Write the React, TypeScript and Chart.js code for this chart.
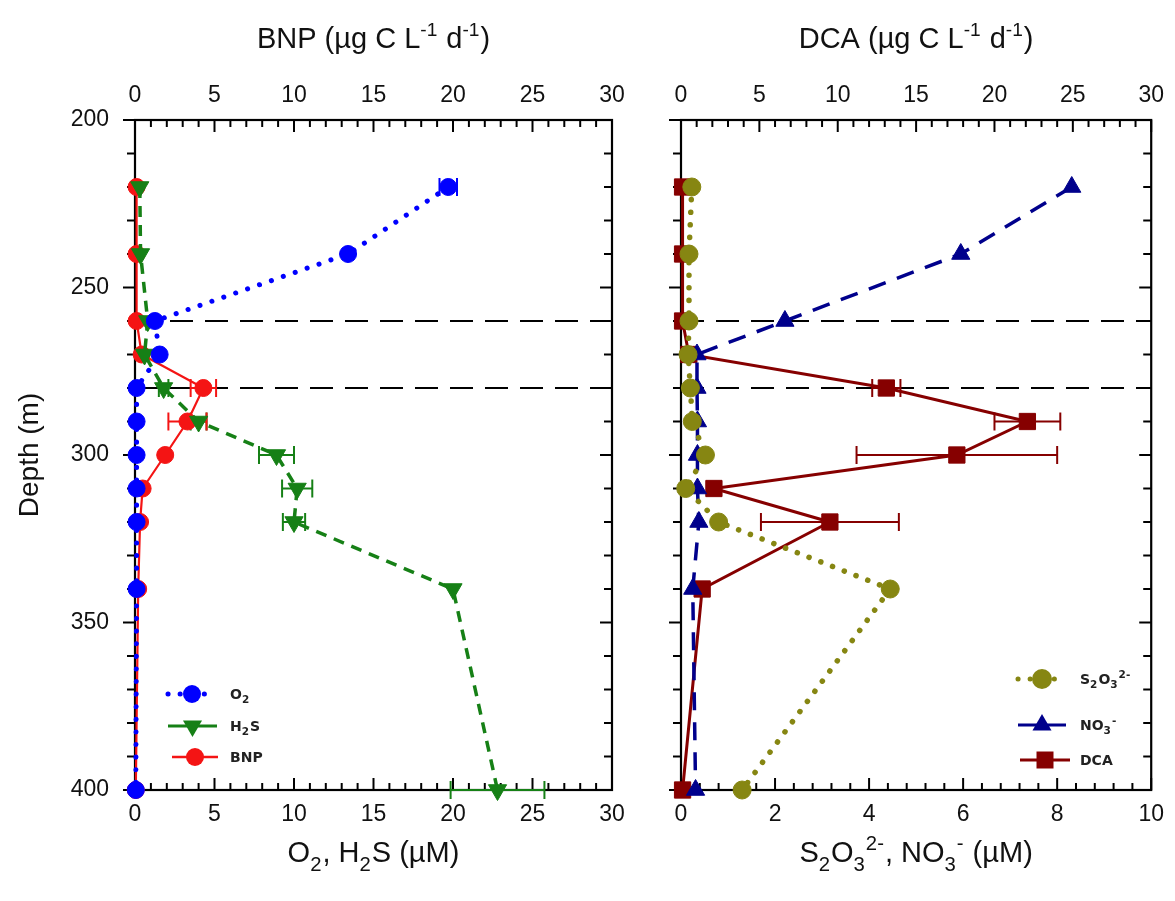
import React, { useEffect, useRef } from 'react';
import { Chart, registerables } from 'chart.js';

Chart.register(...registerables);

// ---------------- data ----------------
const depthsLeft = [220, 240, 260, 270, 280, 290, 300, 310, 320, 340, 400];
const o2Values = [19.7, 13.4, 1.25, 1.55, 0.1, 0.1, 0.1, 0.1, 0.1, 0.1, 0.05];
const o2Errors = [0.55, 0, 0, 0, 0, 0, 0, 0, 0, 0, 0];
const h2sValues = [0.3, 0.35, 0.8, 0.6, 1.8, 4.0, 8.9, 10.2, 10.0, 20.0, 22.8];
const h2sErrors = [0, 0, 0, 0, 0.3, 0.5, 1.1, 0.95, 0.7, 0, 2.95];
const bnpValues = [0.1, 0.1, 0.1, 0.42, 4.3, 3.3, 1.9, 0.48, 0.32, 0.2, 0.05];
const bnpErrors = [0, 0, 0, 0, 0.8, 1.2, 0, 0, 0, 0, 0];

const depthsRight = [220, 240, 260, 270, 280, 290, 300, 310, 320, 340, 400];
const s2o3Values = [0.23, 0.17, 0.17, 0.15, 0.2, 0.24, 0.52, 0.1, 0.8, 4.45, 1.3];
const no3Values = [8.31, 5.95, 2.21, 0.34, 0.34, 0.35, 0.35, 0.35, 0.38, 0.25, 0.31];
const dcaValues = [0.1, 0.1, 0.1, 0.5, 13.1, 22.1, 17.6, 2.1, 9.5, 1.35, 0.1];
const dcaErrors = [0, 0, 0, 0, 0.9, 2.1, 6.4, 0, 4.4, 0, 0];

const boundaryDepths = [260, 280];
const concTicksLeft = [0, 5, 10, 15, 20, 25, 30];
const rateTicks = [0, 5, 10, 15, 20, 25, 30];
const concTicksRight = [0, 2, 4, 6, 8, 10];
const depthTicks = [200, 250, 300, 350, 400];

// ---------------- styling ----------------
const FONT = '"Liberation Sans", Arial, sans-serif';
const LEG_FONT = '"DejaVu Sans", Verdana, sans-serif';
const C_O2 = '#0000ff';
const C_H2S = '#168016';
const C_BNP = '#f41414';
const C_S2O3 = '#868612';
const C_NO3 = '#00008c';
const C_DCA = '#860000';

type Seg = { t: string; k?: 'sub' | 'sup' };
type Marker = 'circle' | 'tri' | 'triDown' | 'square';

interface LegendItem {
  segs: Seg[];
  color: string;
  dash: number[];
  width: number;
  cap: CanvasLineCap;
  marker: Marker;
  size: number;
  y: number;
  x1: number;
  x2: number;
  tx: number;
}

interface ErrSpec {
  axis: string;
  values: number[];
  errors: number[];
  depths: number[];
  color: string;
}

interface TickSpec {
  axis: string;
  min: number;
  max: number;
  step: number;
  majorEvery: number;
}

interface PanelCfg {
  topTitle: Seg[];
  bottomTitle: Seg[];
  yTitle?: string;
  legend: LegendItem[];
  errs: ErrSpec[];
  bottomTicks: TickSpec;
  topTicks: TickSpec;
  depthStep: number;
  depthMajor: number;
}

function drawRich(
  ctx: CanvasRenderingContext2D,
  segs: Seg[],
  x: number,
  baseline: number,
  size: number,
  family: string,
  weight: string,
  color: string,
  align: 'center' | 'left',
  ratio = 0.62
) {
  const small = size * ratio;
  const widths = segs.map((s) => {
    ctx.font = `${weight} ${s.k ? small : size}px ${family}`;
    return ctx.measureText(s.t).width + (s.k ? 1 : 0);
  });
  const total = widths.reduce((a, b) => a + b, 0);
  let cx = align === 'center' ? x - total / 2 : x;
  ctx.fillStyle = color;
  ctx.textAlign = 'left';
  ctx.textBaseline = 'alphabetic';
  segs.forEach((s, i) => {
    ctx.font = `${weight} ${s.k ? small : size}px ${family}`;
    const dy = s.k === 'sub' ? size * 0.3 : s.k === 'sup' ? -size * 0.42 : 0;
    ctx.fillText(s.t, cx, baseline + dy);
    cx += widths[i];
  });
}

function drawMarker(ctx: CanvasRenderingContext2D, kind: Marker, x: number, y: number, r: number, color: string) {
  ctx.save();
  ctx.fillStyle = color;
  ctx.beginPath();
  if (kind === 'circle') {
    ctx.arc(x, y, r, 0, Math.PI * 2);
  } else if (kind === 'square') {
    ctx.rect(x - r, y - r, 2 * r, 2 * r);
  } else if (kind === 'tri') {
    ctx.moveTo(x, y - r);
    ctx.lineTo(x + r * 0.866, y + r * 0.5);
    ctx.lineTo(x - r * 0.866, y + r * 0.5);
    ctx.closePath();
  } else {
    ctx.moveTo(x, y + r);
    ctx.lineTo(x + r * 0.866, y - r * 0.5);
    ctx.lineTo(x - r * 0.866, y - r * 0.5);
    ctx.closePath();
  }
  ctx.fill();
  ctx.restore();
}

function line(ctx: CanvasRenderingContext2D, x1: number, y1: number, x2: number, y2: number) {
  ctx.beginPath();
  ctx.moveTo(x1, y1);
  ctx.lineTo(x2, y2);
  ctx.stroke();
}

function makePanelPlugin(cfg: PanelCfg) {
  return {
    id: 'panelDecor',
    beforeDatasetsDraw(chart: any) {
      const ctx: CanvasRenderingContext2D = chart.ctx;
      const { left, right, top, bottom } = chart.chartArea;
      const ys = chart.scales.y;
      ctx.save();
      // boundary dashed lines
      ctx.strokeStyle = '#000';
      ctx.lineWidth = 2;
      ctx.setLineDash([23, 12]);
      boundaryDepths.forEach((d) => {
        const py = ys.getPixelForValue(d);
        line(ctx, left, py, right, py);
      });
      ctx.setLineDash([]);

      // frame
      ctx.lineWidth = 2.2;
      ctx.strokeRect(left, top, right - left, bottom - top);

      // ticks
      ctx.lineWidth = 2;
      const horiz = (spec: TickSpec, yEdge: number, dir: number) => {
        const sc = chart.scales[spec.axis];
        const n = Math.round((spec.max - spec.min) / spec.step);
        for (let i = 0; i <= n; i++) {
          const v = spec.min + i * spec.step;
          const px = sc.getPixelForValue(v);
          const len = i % spec.majorEvery === 0 ? 12 : 7;
          line(ctx, px, yEdge, px, yEdge + dir * len);
        }
      };
      horiz(cfg.bottomTicks, bottom, -1);
      horiz(cfg.topTicks, top, 1);
      const nD = Math.round((400 - 200) / cfg.depthStep);
      for (let i = 0; i <= nD; i++) {
        const v = 200 + i * cfg.depthStep;
        const py = ys.getPixelForValue(v);
        const len = i % cfg.depthMajor === 0 ? 12 : 8;
        line(ctx, left, py, left - len, py);
        line(ctx, right, py, right - len, py);
      }

      // error bars
      ctx.lineWidth = 2;
      cfg.errs.forEach((e) => {
        const sc = chart.scales[e.axis];
        ctx.strokeStyle = e.color;
        e.values.forEach((v, i) => {
          const err = e.errors[i];
          if (!err) return;
          const py = ys.getPixelForValue(e.depths[i]);
          const a = sc.getPixelForValue(v - err);
          const b = sc.getPixelForValue(v + err);
          line(ctx, a, py, b, py);
          line(ctx, a, py - 9, a, py + 9);
          line(ctx, b, py - 9, b, py + 9);
        });
      });
      ctx.restore();
    },
    afterDraw(chart: any) {
      const ctx: CanvasRenderingContext2D = chart.ctx;
      const { left, right, top, bottom } = chart.chartArea;
      ctx.save();
      const cx = (left + right) / 2;
      drawRich(ctx, cfg.topTitle, cx, 48, 29, FONT, 'normal', '#111', 'center', 0.66);
      drawRich(ctx, cfg.bottomTitle, cx, 862, 29, FONT, 'normal', '#111', 'center', 0.7);
      if (cfg.yTitle) {
        ctx.save();
        ctx.translate(30, (top + bottom) / 2);
        ctx.rotate(-Math.PI / 2);
        ctx.font = `28px ${FONT}`;
        ctx.fillStyle = '#111';
        ctx.textAlign = 'center';
        ctx.textBaseline = 'middle';
        ctx.fillText(cfg.yTitle, 0, 0);
        ctx.restore();
      }
      // legend
      cfg.legend.forEach((it) => {
        ctx.save();
        ctx.strokeStyle = it.color;
        ctx.lineWidth = it.width;
        ctx.lineCap = it.cap;
        ctx.setLineDash(it.dash);
        line(ctx, it.x1, it.y, it.x2, it.y);
        ctx.restore();
        drawMarker(ctx, it.marker, (it.x1 + it.x2) / 2, it.y, it.size, it.color);
        drawRich(ctx, it.segs, it.tx, it.y + 5, 14, LEG_FONT, 'bold', '#222', 'left', 0.75);
      });
      ctx.restore();
    },
  };
}

function pts(values: number[], depths: number[]) {
  return values.map((v, i) => ({ x: v, y: depths[i] }));
}

function series(
  label: string,
  values: number[],
  depths: number[],
  axis: string,
  color: string,
  width: number,
  dash: number[],
  cap: CanvasLineCap,
  style: string,
  radius: number,
  rotation = 0
) {
  return {
    label,
    data: pts(values, depths),
    xAxisID: axis,
    yAxisID: 'y',
    showLine: true,
    borderColor: color,
    backgroundColor: color,
    borderWidth: width,
    borderDash: dash,
    borderCapStyle: cap,
    pointStyle: style,
    pointRadius: radius,
    pointRotation: rotation,
    pointBackgroundColor: color,
    pointBorderColor: color,
    pointBorderWidth: 1,
    tension: 0,
    clip: false,
  };
}

const tickFont = { family: FONT, size: 23 };

function xScale(position: string, ticks: number[], padding: number, height: number) {
  return {
    type: 'linear',
    position,
    min: ticks[0],
    max: ticks[ticks.length - 1],
    afterBuildTicks: (s: any) => {
      s.ticks = ticks.map((v) => ({ value: v }));
    },
    ticks: { color: '#111', font: tickFont, padding, maxRotation: 0, autoSkip: false },
    grid: { display: false, drawTicks: false },
    border: { display: false },
    afterFit: (s: any) => {
      s.height = height;
    },
  };
}

function yScale(width: number, showLabels: boolean) {
  return {
    type: 'linear',
    position: 'left',
    reverse: true,
    min: depthTicks[0],
    max: depthTicks[depthTicks.length - 1],
    afterBuildTicks: (s: any) => {
      s.ticks = depthTicks.map((v) => ({ value: v }));
    },
    ticks: { display: showLabels, color: '#111', font: tickFont, padding: 26 },
    grid: { display: false, drawTicks: false },
    border: { display: false },
    afterFit: (s: any) => {
      s.width = width;
    },
  };
}

function leftConfig(): any {
  const cfg: PanelCfg = {
    topTitle: [{ t: 'BNP (µg C L' }, { t: '-1', k: 'sup' }, { t: ' d' }, { t: '-1', k: 'sup' }, { t: ')' }],
    bottomTitle: [{ t: 'O' }, { t: '2', k: 'sub' }, { t: ', H' }, { t: '2', k: 'sub' }, { t: 'S (µM)' }],
    yTitle: 'Depth (m)',
    legend: [
      { segs: [{ t: 'O' }, { t: '2', k: 'sub' }], color: C_O2, dash: [0.1, 12], width: 5, cap: 'round', marker: 'circle', size: 9, y: 694, x1: 168, x2: 216, tx: 230 },
      { segs: [{ t: 'H' }, { t: '2', k: 'sub' }, { t: 'S' }], color: C_H2S, dash: [], width: 3, cap: 'butt', marker: 'triDown', size: 11, y: 726, x1: 168, x2: 217, tx: 230 },
      { segs: [{ t: 'BNP' }], color: C_BNP, dash: [], width: 2.5, cap: 'butt', marker: 'circle', size: 9, y: 757, x1: 172, x2: 218, tx: 230 },
    ],
    errs: [
      { axis: 'x', values: o2Values, errors: o2Errors, depths: depthsLeft, color: C_O2 },
      { axis: 'x', values: h2sValues, errors: h2sErrors, depths: depthsLeft, color: C_H2S },
      { axis: 'x2', values: bnpValues, errors: bnpErrors, depths: depthsLeft, color: C_BNP },
    ],
    bottomTicks: { axis: 'x', min: 0, max: 30, step: 1, majorEvery: 5 },
    topTicks: { axis: 'x2', min: 0, max: 30, step: 1, majorEvery: 5 },
    depthStep: 10,
    depthMajor: 5,
  };
  return {
    type: 'scatter',
    data: {
      datasets: [
        series('O2', o2Values, depthsLeft, 'x', C_O2, 5, [0.1, 12.5], 'round', 'circle', 8.5),
        series('H2S', h2sValues, depthsLeft, 'x', C_H2S, 3.5, [11, 8], 'butt', 'triangle', 10.5, 180),
        series('BNP', bnpValues, depthsLeft, 'x2', C_BNP, 2.2, [], 'butt', 'circle', 8.5),
      ],
    },
    options: {
      responsive: false,
      animation: false,
      events: [],
      layout: { padding: { left: 0, right: 28, top: 0, bottom: 0 } },
      plugins: { legend: { display: false }, tooltip: { enabled: false } },
      scales: {
        x: xScale('bottom', concTicksLeft, 11, 111),
        x2: xScale('top', rateTicks, 11, 120),
        y: yScale(135, true),
      },
    },
    plugins: [makePanelPlugin(cfg)],
  };
}

function rightConfig(): any {
  const cfg: PanelCfg = {
    topTitle: [{ t: 'DCA (µg C L' }, { t: '-1', k: 'sup' }, { t: ' d' }, { t: '-1', k: 'sup' }, { t: ')' }],
    bottomTitle: [
      { t: 'S' }, { t: '2', k: 'sub' }, { t: 'O' }, { t: '3', k: 'sub' }, { t: '2-', k: 'sup' },
      { t: ', NO' }, { t: '3', k: 'sub' }, { t: '-', k: 'sup' }, { t: ' (µM)' },
    ],
    legend: [
      { segs: [{ t: 'S' }, { t: '2', k: 'sub' }, { t: 'O' }, { t: '3', k: 'sub' }, { t: '2-', k: 'sup' }], color: C_S2O3, dash: [0.1, 12], width: 5, cap: 'round', marker: 'circle', size: 10, y: 679, x1: 1018 - 640, x2: 1066 - 640, tx: 1080 - 640 },
      { segs: [{ t: 'NO' }, { t: '3', k: 'sub' }, { t: '-', k: 'sup' }], color: C_NO3, dash: [], width: 3, cap: 'butt', marker: 'tri', size: 11, y: 725, x1: 1018 - 640, x2: 1066 - 640, tx: 1080 - 640 },
      { segs: [{ t: 'DCA' }], color: C_DCA, dash: [], width: 3, cap: 'butt', marker: 'square', size: 8.5, y: 760, x1: 1020 - 640, x2: 1070 - 640, tx: 1080 - 640 },
    ],
    errs: [{ axis: 'x2', values: dcaValues, errors: dcaErrors, depths: depthsRight, color: C_DCA }],
    bottomTicks: { axis: 'x', min: 0, max: 10, step: 0.4, majorEvery: 5 },
    topTicks: { axis: 'x2', min: 0, max: 30, step: 1, majorEvery: 5 },
    depthStep: 10,
    depthMajor: 5,
  };
  return {
    type: 'scatter',
    data: {
      datasets: [
        series('S2O3', s2o3Values, depthsRight, 'x', C_S2O3, 5.5, [0.1, 12.5], 'round', 'circle', 9),
        series('NO3', no3Values, depthsRight, 'x', C_NO3, 3.5, [18, 12], 'butt', 'triangle', 10.5),
        series('DCA', dcaValues, depthsRight, 'x2', C_DCA, 3, [], 'butt', 'rect', 11.5),
      ],
    },
    options: {
      responsive: false,
      animation: false,
      events: [],
      layout: { padding: { left: 0, right: 20, top: 0, bottom: 0 } },
      plugins: { legend: { display: false }, tooltip: { enabled: false } },
      scales: {
        x: xScale('bottom', concTicksRight, 11, 111),
        x2: xScale('top', rateTicks, 11, 120),
        y: yScale(41, false),
      },
    },
    plugins: [makePanelPlugin(cfg)],
  };
}

export default function App() {
  const leftRef = useRef<HTMLCanvasElement>(null);
  const rightRef = useRef<HTMLCanvasElement>(null);

  useEffect(() => {
    const a = new Chart(leftRef.current as HTMLCanvasElement, leftConfig());
    const b = new Chart(rightRef.current as HTMLCanvasElement, rightConfig());
    return () => {
      a.destroy();
      b.destroy();
    };
  }, []);

  return (
    <div style={{ position: 'absolute', left: 0, top: 0, width: 1175, height: 901, background: '#fff', overflow: 'hidden' }}>
      <canvas ref={leftRef} width={640} height={901} style={{ position: 'absolute', left: 0, top: 0 }} />
      <canvas ref={rightRef} width={535} height={901} style={{ position: 'absolute', left: 640, top: 0 }} />
    </div>
  );
}
